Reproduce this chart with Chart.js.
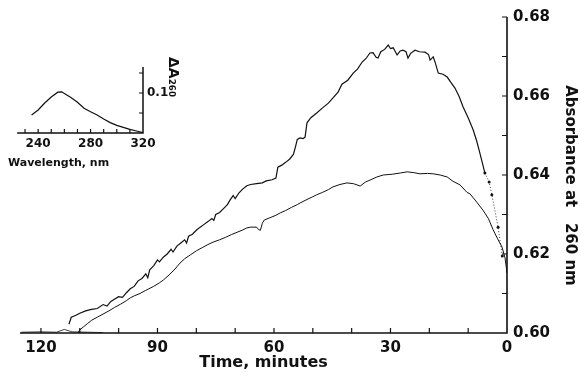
<!DOCTYPE html>
<html>
<head>
<meta charset="utf-8">
<script src="https://cdn.jsdelivr.net/npm/chart.js@4.4.1/dist/chart.umd.min.js"></script>
<style>
html, body { margin: 0; padding: 0; background: #fff; }
#wrap { position: relative; width: 580px; height: 379px; }
#main, #inset { position: absolute; left: 0; top: 0; }
</style>
</head>
<body>
<div id="wrap">
<canvas id="main" width="580" height="379"></canvas>
<canvas id="inset" width="182" height="175"></canvas>
</div>
<script>
// upper trace (minutes, absorbance at 260 nm)
const upperTime = [112.8, 112.2, 111, 110, 108.5, 107, 105.5, 104, 103, 102, 101, 100, 99, 98, 97, 96, 95, 94, 93, 92.5,
  92, 91, 90, 89.5, 88.5, 87.5, 86.5, 86, 85, 84, 83, 82.5, 82, 81, 80, 79, 78, 77, 76, 75.5,
  75, 74, 73, 72, 71.3, 70.5, 70, 69, 68, 67, 66, 64.5, 63, 62, 60.5, 59.5, 59, 58, 57, 56,
  55, 54.5, 54, 53.3, 52.5, 52, 51.5, 50.5, 49, 47.5, 46, 44.8, 43.5, 42.5, 41, 39.6, 38.5, 37.3, 36.3, 35.3,
  34.5, 33.7, 33.2, 32.5, 31.5, 30.6, 30, 29.3, 28.3, 27.5, 26.8, 26, 25.5, 24.8, 23.7, 22.5, 21.1, 20.2, 19.8, 19,
  18.5, 17.7, 16.5, 15.4, 14.5, 13.4, 12.3, 11.3, 10, 8.7, 7.8, 7, 6.2, 5.7];
const upperAbs = [0.6022, 0.6040, 0.6045, 0.6050, 0.6056, 0.6060, 0.6062, 0.6072, 0.6068, 0.6080, 0.6086, 0.6092, 0.6090, 0.6102, 0.6112, 0.6118, 0.6132, 0.6138, 0.6150, 0.6140,
  0.6160, 0.6170, 0.6185, 0.6180, 0.6192, 0.6200, 0.6212, 0.6205, 0.6220, 0.6228, 0.6236, 0.6228, 0.6245, 0.6250, 0.6260, 0.6268, 0.6275, 0.6282, 0.6290, 0.6285,
  0.6300, 0.6305, 0.6315, 0.6325, 0.6337, 0.6348, 0.6340, 0.6355, 0.6365, 0.6373, 0.6376, 0.6378, 0.6380, 0.6385, 0.6388, 0.6392, 0.6420, 0.6425, 0.6432, 0.6440,
  0.6452, 0.6470, 0.6490, 0.6494, 0.6492, 0.6496, 0.6532, 0.6545, 0.6557, 0.6570, 0.6582, 0.6595, 0.6610, 0.6630, 0.6640, 0.6658, 0.6668, 0.6686, 0.6695, 0.6709,
  0.6710, 0.6698, 0.6696, 0.6712, 0.6718, 0.6729, 0.6720, 0.6722, 0.6704, 0.6714, 0.6716, 0.6712, 0.6696, 0.6708, 0.6716, 0.6712, 0.6711, 0.6705, 0.6691, 0.6699,
  0.6685, 0.6658, 0.6655, 0.6648, 0.6635, 0.6620, 0.6598, 0.6572, 0.6545, 0.6514, 0.6486, 0.6456, 0.6425, 0.6405];

// dotted end of the upper trace
const tailTime = [5.7, 4.6, 3.9, 2.3, 1.2];
const tailAbs = [0.6405, 0.6382, 0.6350, 0.6268, 0.6195];

// lower trace
const lowerTime = [110.5, 110, 109, 108, 107, 105.5, 104, 102.5, 101, 99.5, 98, 97, 96, 94.5, 93, 91, 89.5, 88.5, 87, 85.5,
  84.2, 83, 81.5, 80, 78.5, 77, 75.7, 74, 72.5, 71, 69.5, 68, 67, 66, 64.5, 64, 63.5, 63, 62.5, 61,
  59.5, 58.4, 57, 55.5, 54, 53.3, 51.5, 50, 49, 47.5, 46, 44.8, 43, 41.2, 39.5, 37.8, 36.5, 35.3, 33.5, 31.9,
  29.5, 27.5, 25.7, 24, 22.4, 20.5, 19, 17.2, 15.4, 13.9, 12.1, 10.3, 9.5, 8, 6.2, 4.8, 3.6, 2.5, 1.3, 0.5, 0];
const lowerAbs = [0.6000, 0.6008, 0.6016, 0.6024, 0.6032, 0.6040, 0.6048, 0.6056, 0.6065, 0.6073, 0.6082, 0.6089, 0.6094, 0.6100, 0.6108, 0.6118, 0.6127, 0.6134, 0.6147, 0.6162,
  0.6177, 0.6188, 0.6198, 0.6208, 0.6216, 0.6224, 0.6230, 0.6236, 0.6242, 0.6249, 0.6255, 0.6261, 0.6266, 0.6268, 0.6268, 0.6262, 0.6260, 0.6278, 0.6286, 0.6292,
  0.6298, 0.6304, 0.6310, 0.6318, 0.6325, 0.6329, 0.6338, 0.6345, 0.6350, 0.6356, 0.6363, 0.6370, 0.6376, 0.6380, 0.6378, 0.6372, 0.6382, 0.6387, 0.6395, 0.6400,
  0.6402, 0.6405, 0.6408, 0.6406, 0.6403, 0.6404, 0.6403, 0.6400, 0.6395, 0.6384, 0.6375, 0.6356, 0.6352, 0.6334, 0.6311, 0.6290, 0.6262, 0.6240, 0.6218, 0.6190, 0.6152];

// recorder baseline before the run
const baseTime = [125, 120, 116, 114, 112, 108, 104];
const baseAbs = [0.6002, 0.6003, 0.6002, 0.6009, 0.6003, 0.6002, 0.6001];

// inset: difference spectrum
const waveNm = [235, 240, 245, 250, 255, 258, 260, 265, 270, 275, 280, 285, 290, 295, 300, 305, 310, 315, 320];
const waveDelta = [0.045, 0.0575, 0.075, 0.090, 0.102, 0.103, 0.099, 0.089, 0.077, 0.062, 0.053, 0.045, 0.035, 0.026, 0.019, 0.014, 0.009, 0.005, 0.001];

// tick labels
const timeLabels = [0, 30, 60, 90, 120];
const absLabels = [0.60, 0.62, 0.64, 0.66, 0.68];
const nmLabels = [240, 280, 320];
const deltaLabels = [0.1];

const ink = '#111';
Chart.defaults.font.family = 'DejaVu Sans';
Chart.defaults.color = ink;

const pts = (xs, ys) => xs.map((x, i) => ({ x: x, y: ys[i] }));

// axis lines with ticks pointing inwards
const axisFrame = {
  id: 'axisFrame',
  afterDatasetsDraw(chart, args, o) {
    const ctx = chart.ctx;
    const px = v => chart.scales.x.getPixelForValue(v);
    const py = v => chart.scales.y.getPixelForValue(v);
    ctx.save();
    ctx.strokeStyle = ink;
    ctx.lineWidth = o.width;
    ctx.beginPath();
    ctx.moveTo(px(o.xFrom), py(o.yFrom));
    ctx.lineTo(px(o.xTo), py(o.yFrom));
    ctx.lineTo(px(o.xTo), py(o.yTo));
    ctx.stroke();
    ctx.lineWidth = 1.2;
    ctx.beginPath();
    for (let v = o.xStart; v <= o.xEnd + 1e-9; v += o.xStep) {
      ctx.moveTo(px(v), py(o.yFrom));
      ctx.lineTo(px(v), py(o.yFrom) - o.len);
    }
    for (let v = o.yStart; v <= o.yEnd + 1e-9; v += o.yStep) {
      ctx.moveTo(px(o.xTo), py(v));
      ctx.lineTo(px(o.xTo) - o.len, py(v));
    }
    ctx.stroke();
    ctx.restore();
  }
};

const lineStyle = { borderColor: ink, borderWidth: 1.2, pointRadius: 0, tension: 0, fill: false };

new Chart(document.getElementById('main'), {
  type: 'line',
  data: {
    datasets: [
      Object.assign({ data: pts(upperTime, upperAbs) }, lineStyle),
      Object.assign({ data: pts(lowerTime, lowerAbs) }, lineStyle, { borderWidth: 1 }),
      Object.assign({ data: pts(baseTime, baseAbs) }, lineStyle, { borderWidth: 0.8 }),
      { data: pts(tailTime, tailAbs), borderColor: ink, borderWidth: 0.8, borderDash: [1, 2],
        pointRadius: 1.5, pointBackgroundColor: ink, pointBorderWidth: 0, tension: 0, fill: false }
    ]
  },
  options: {
    responsive: false,
    animation: false,
    layout: { padding: { left: 20, top: 17, right: 0, bottom: 0 } },
    plugins: {
      legend: { display: false },
      tooltip: { enabled: false },
      axisFrame: { width: 1.6, xFrom: 125.4, xTo: 0, yFrom: 0.60, yTo: 0.68,
        xStart: 10, xEnd: 120, xStep: 10, yStart: 0.61, yEnd: 0.68, yStep: 0.01, len: 5 }
    },
    scales: {
      x: {
        type: 'linear', reverse: true, min: 0, max: 125.4,
        afterBuildTicks: s => { s.ticks = timeLabels.map(v => ({ value: v })); },
        afterFit: s => { s.height = 46; },
        grid: { display: false, drawTicks: false },
        border: { display: false },
        ticks: { padding: 6, maxRotation: 0, autoSkip: false, font: { size: 15, weight: 'bold' }, callback: v => String(v) },
        title: { display: true, text: 'Time, minutes', font: { size: 16, weight: 'bold' }, padding: { top: 0, bottom: 7 } }
      },
      y: {
        type: 'linear', position: 'right', min: 0.60, max: 0.68,
        afterBuildTicks: s => { s.ticks = absLabels.map(v => ({ value: v })); },
        afterFit: s => { s.width = 73; },
        grid: { display: false, drawTicks: false },
        border: { display: false },
        ticks: { padding: 6, font: { size: 15, weight: 'bold' }, callback: v => v.toFixed(2) },
        title: { display: true, text: '    Absorbance at   260 nm', font: { size: 15, weight: 'bold' }, padding: { top: 1, bottom: 0 } }
      }
    }
  },
  plugins: [axisFrame]
});

new Chart(document.getElementById('inset'), {
  type: 'line',
  data: {
    datasets: [Object.assign({ data: pts(waveNm, waveDelta) }, lineStyle)]
  },
  options: {
    responsive: false,
    animation: false,
    layout: { padding: { left: 8, top: 57, right: 0, bottom: 0 } },
    plugins: {
      legend: { display: false },
      tooltip: { enabled: false },
      axisFrame: { width: 1.5, xFrom: 224, xTo: 320, yFrom: 0, yTo: 0.165,
        xStart: 230, xEnd: 310, xStep: 10, yStart: 0.05, yEnd: 0.15, yStep: 0.05, len: 4 }
    },
    scales: {
      x: {
        type: 'linear', min: 217, max: 320,
        afterBuildTicks: s => { s.ticks = nmLabels.map(v => ({ value: v })); },
        afterFit: s => { s.height = 42; },
        grid: { display: false, drawTicks: false },
        border: { display: false },
        ticks: { padding: 4, maxRotation: 0, autoSkip: false, font: { size: 12, weight: 'bold' }, callback: v => String(v) },
        title: { display: true, align: 'start', text: 'Wavelength, nm', font: { size: 11, weight: 'bold' }, padding: { top: 0, bottom: 5 } }
      },
      y: {
        type: 'linear', position: 'right', min: 0, max: 0.19,
        afterBuildTicks: s => { s.ticks = deltaLabels.map(v => ({ value: v })); },
        afterFit: s => { s.width = 39; },
        grid: { display: false, drawTicks: false },
        border: { display: false },
        ticks: { padding: 4, font: { size: 12, weight: 'bold' }, callback: v => String(v) },
        title: { display: true, align: 'end', text: '\u0394A\u2082\u2086\u2080', font: { size: 14, weight: 'bold' }, padding: { top: 1, bottom: 0 } }
      }
    }
  },
  plugins: [axisFrame]
});
</script>
</body>
</html>
